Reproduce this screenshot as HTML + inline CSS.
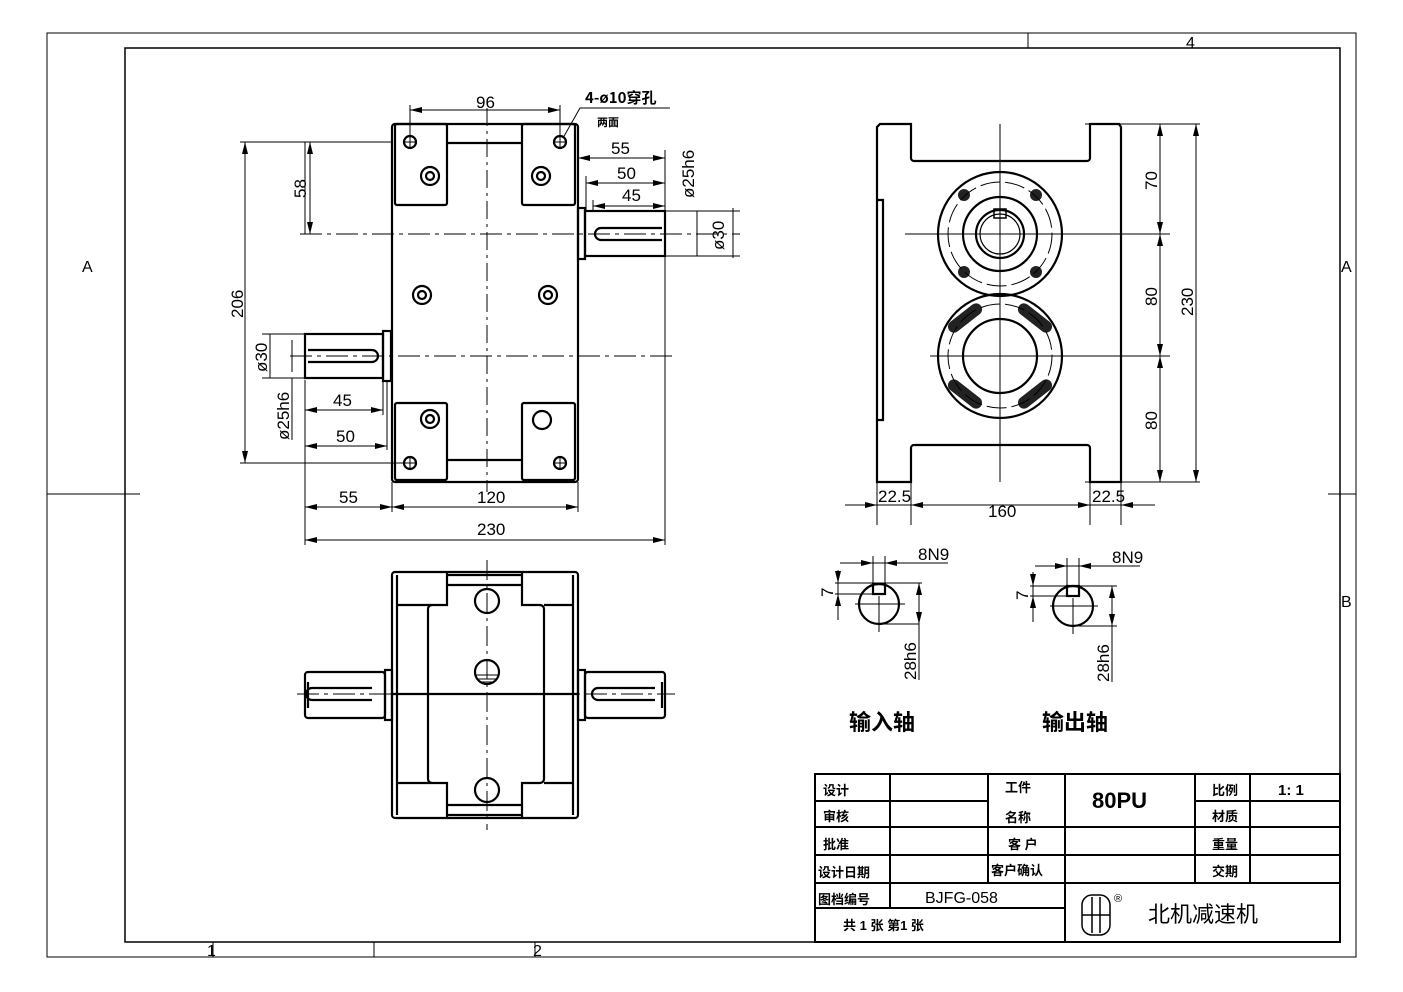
<!DOCTYPE html>
<html><head><meta charset="utf-8"><style>
html,body{margin:0;padding:0;background:#fff}
svg{display:block}
text{font-family:"Liberation Sans","Noto Sans CJK SC",sans-serif;fill:#000}
.d{font-family:"Liberation Sans Narrow","Liberation Sans",sans-serif;font-size:17px}
.c{font-family:"Noto Sans CJK SC","WenQuanYi Zen Hei",sans-serif;font-weight:bold}
</style></head><body>
<svg width="1403" height="992" viewBox="0 0 1403 992" xmlns="http://www.w3.org/2000/svg">
<g fill="none" stroke="#000">
<!-- frame -->
<rect x="47" y="33" width="1309" height="924" stroke-width="1"/>
<rect x="125" y="48" width="1215" height="894" stroke-width="1.5"/>
<path d="M1028 33V48M213 942V957M374 942V957M535 942V957M47 494H140M1328 494H1356" stroke-width="1"/>

<!-- FRONT VIEW -->
<g stroke-width="2.2">
<rect x="392" y="124" width="186" height="358" rx="3"/>
<rect x="395" y="124" width="52" height="81" rx="2"/>
<rect x="522" y="124" width="53" height="81" rx="2"/>
<rect x="395" y="403" width="52" height="77" rx="2"/>
<rect x="522" y="403" width="53" height="77" rx="2"/>
<path d="M447 143H522M447 460H522"/>
<circle cx="430" cy="176" r="9"/><circle cx="430" cy="176" r="4"/>
<circle cx="541" cy="176" r="9"/><circle cx="541" cy="176" r="4"/>
<circle cx="422" cy="295" r="9"/><circle cx="422" cy="295" r="4"/>
<circle cx="548" cy="295" r="9"/><circle cx="548" cy="295" r="4"/>
<circle cx="430" cy="419" r="9"/><circle cx="430" cy="419" r="4"/>
<circle cx="542" cy="420" r="9"/>
<circle cx="410" cy="142" r="6"/><circle cx="560" cy="142" r="6"/>
<circle cx="410" cy="463" r="6"/><circle cx="560" cy="463" r="6"/>
<rect x="585" y="211" width="80" height="45"/>
<rect x="578" y="208" width="7" height="51"/>
<path d="M662 228H601a6 6 0 0 0 0 12H662"/>
<rect x="305" y="334" width="78" height="44"/>
<rect x="383" y="331" width="8" height="50"/>
<path d="M308 350H372a6 6 0 0 1 0 12H308"/>
</g>
<g stroke-width="1">
<path d="M487 108V492" stroke-dasharray="18 5 3 5"/>
<path d="M300 234H740M290 356H675" stroke-dasharray="22 5 4 5"/>
<path d="M404 142H416M410 136V148M554 142H566M560 136V148M404 463H416M410 457V469M554 463H566M560 457V469"/>
<!-- dims -->
<path d="M410 105V140M560 105V140M410 110H560"/>
<path d="M563 138L580 108H670"/>
<path d="M578 158H665M586 183H665M593 206H665M665 150V545M586 176V211M593 200V211"/>
<path d="M665 211H740M665 256H740M697 211V256M733 208V258"/>
<path d="M240 142H392M240 463H410M245 142V463M305 234V142M310 142V234"/>
<path d="M262 334H305M262 378H305M270 334V378M292 340V372M292 378V440"/>
<path d="M305 380V545M383 378V415M387 381V450M392 482V512M578 482V512M305 410H383M305 446H387M305 507H578M305 540H665"/>
</g>
<g fill="#000" stroke="none">
<path d="M410 110l12-3v6zM560 110l-12-3v6zM578 158l12-3v6zM665 158l-12-3v6zM586 183l12-3v6zM665 183l-12-3v6zM593 206l12-3v6zM665 206l-12-3v6z"/>
<path d="M245 142l-3 12h6zM245 463l-3-12h6zM310 142l-3 12h6zM310 234l-3-12h6z"/>
<path d="M305 410l12-3v6zM383 410l-12-3v6zM305 446l12-3v6zM387 446l-12-3v6zM305 507l12-3v6zM392 507l-12-3v6zM392 507l12-3v6zM578 507l-12-3v6zM305 540l12-3v6zM665 540l-12-3v6z"/>
</g>

<!-- SIDE VIEW -->
<g stroke-width="2.2">
<path d="M880 124H911V158a3 3 0 0 0 3 3H1087a3 3 0 0 0 3-3V124H1119L1121 127V482H1090V448a3 3 0 0 0-3-3H914a3 3 0 0 0-3 3V482H877V127Z"/>
<path d="M877 200H883V420H877"/>
<circle cx="1000" cy="234" r="62"/><circle cx="1000" cy="234" r="37"/>
<circle cx="1000" cy="234" r="24"/><circle cx="1000" cy="234" r="20" stroke-width="1.2"/>
<rect x="994" y="209" width="12" height="9" stroke-width="1.5"/>
<circle cx="1000" cy="356" r="62"/><circle cx="1000" cy="356" r="37"/>
</g>
<g fill="#222" stroke="none">
<circle cx="964" cy="195" r="6"/><circle cx="1036" cy="195" r="6"/><circle cx="964" cy="272" r="6"/><circle cx="1036" cy="272" r="6"/>
<rect x="-20" y="-6" width="40" height="12" rx="6" transform="translate(965 318) rotate(-38)"/>
<rect x="-20" y="-6" width="40" height="12" rx="6" transform="translate(1035 318) rotate(38)"/>
<rect x="-20" y="-6" width="40" height="12" rx="6" transform="translate(965 394) rotate(38)"/>
<rect x="-20" y="-6" width="40" height="12" rx="6" transform="translate(1035 394) rotate(-38)"/>
</g>
<g stroke-width="1">
<circle cx="1000" cy="234" r="52" stroke-dasharray="20 5"/>
<circle cx="1000" cy="356" r="52" stroke-dasharray="20 5"/>
<path d="M1000 124V482M905 234H1170M930 356H1170M1085 124H1200M1085 482H1200"/>
<path d="M1160 124V482M1196 124V482"/>
<path d="M877 482V525M911 482V525M1090 482V525M1121 482V525M845 505H1155"/>
</g>
<g fill="#000" stroke="none">
<path d="M1160 124l-3 12h6zM1160 234l-3-12h6zM1160 234l-3 12h6zM1160 356l-3-12h6zM1160 356l-3 12h6zM1160 482l-3-12h6zM1196 124l-3 12h6zM1196 482l-3-12h6z"/>
<path d="M877 505l-12-3v6zM911 505l12-3v6zM1090 505l-12-3v6zM1121 505l12-3v6zM911 505l-0 0z"/>
</g>

<!-- BOTTOM VIEW -->
<g stroke-width="2.2">
<rect x="392" y="572" width="186" height="246" rx="3"/>
<path d="M397 575V815M573 575V815"/>
<path d="M447 572V605H432a4 4 0 0 0-4 4V779a4 4 0 0 0 4 4H447V818"/>
<path d="M522 572V605H540a4 4 0 0 1 4 4V779a4 4 0 0 1-4 4H522V818"/>
<path d="M397 605H432M397 783H432M544 605H573M544 783H573"/>
<path d="M447 575H522M447 585H522M447 805H522M447 815H522"/>
<path d="M392 694H578"/>
<circle cx="487" cy="601" r="12"/><circle cx="487" cy="672" r="12"/><circle cx="487" cy="790" r="12"/>
<rect x="305" y="672" width="80" height="46" rx="3"/>
<rect x="385" y="670" width="7" height="50"/>
<path d="M308 682V708M372 688H312a6 6 0 0 0 0 12H372"/>
<rect x="585" y="672" width="80" height="46" rx="3"/>
<rect x="578" y="670" width="7" height="50"/>
<path d="M662 682V708M598 688H655M598 700H655"/>
<path d="M598 688a6 6 0 0 0 0 12"/>
</g>
<g stroke-width="1">
<path d="M487 560V830" stroke-dasharray="20 5 3 5"/>
<path d="M297 694H675" stroke-dasharray="22 5 4 5"/>
<path d="M476 675H498M478 679H496M480 682H494"/>
</g>

<!-- SECTIONS -->
<g stroke-width="2.2">
<circle cx="879" cy="604" r="20"/><rect x="873" y="584" width="12" height="10"/>
<circle cx="1073" cy="606" r="20"/><rect x="1067" y="586" width="12" height="10"/>
</g>
<g stroke-width="1">
<path d="M873 556V592M885 556V592M840 563H948M835 583H922M835 594H880M838 570V620M879 596V632M855 604H905M919 583V680"/>
<path d="M1067 558V594M1079 558V594M1035 566H1140M1030 586H1117M1030 596H1073M1033 572V622M1073 598V634M1050 606H1098M1112 586V682M1112 626H1117"/>
<path d="M879 624H919M1073 626H1112"/>
</g>
<g fill="#000" stroke="none">
<path d="M873 563l-12-3v6zM885 563l12-3v6zM1067 566l-12-3v6zM1079 566l12-3v6zM838 583l-3-12h6zM838 594l-3 12h6zM1033 586l-3-12h6zM1033 596l-3 12h6zM919 583l-3 12h6zM919 624l-3-12h6zM1112 586l-3 12h6zM1112 626l-3-12h6z"/>
</g>

<!-- TITLE BLOCK -->
<g stroke-width="2">
<rect x="815" y="774" width="525" height="168"/>
<path d="M815 827H1340M815 855H1340M815 883H1340M815 908H1065"/>
<path d="M815 801H988M1195 801H1340"/>
<path d="M890 774V908M988 774V883M1065 774V942M1195 774V883M1250 774V883"/>
</g>
<g stroke-width="1.5">
<rect x="1082" y="895" width="28" height="40" rx="10"/>
<path d="M1082 915H1110M1092 897V933M1100 897V933"/>
</g>
</g>

<!-- TEXTS -->
<g class="d">
<text x="476" y="108">96</text>
<text x="585" y="103" font-size="15" class="c" font-weight="normal">4-ø10穿孔</text>
<text x="597" y="126" font-size="11" class="c" font-weight="normal">两面</text>
<text x="611" y="154">55</text><text x="617" y="179">50</text><text x="622" y="201">45</text>
<text transform="translate(694 198) rotate(-90)">ø25h6</text>
<text transform="translate(724 250) rotate(-90)">ø30</text>
<text transform="translate(243 318) rotate(-90)">206</text>
<text transform="translate(306 198) rotate(-90)">58</text>
<text transform="translate(267 372) rotate(-90)">ø30</text>
<text transform="translate(289 440) rotate(-90)">ø25h6</text>
<text x="333" y="406">45</text><text x="336" y="442">50</text>
<text x="339" y="503">55</text><text x="477" y="503">120</text><text x="477" y="535">230</text>
<text transform="translate(1157 190) rotate(-90)">70</text>
<text transform="translate(1157 306) rotate(-90)">80</text>
<text transform="translate(1157 430) rotate(-90)">80</text>
<text transform="translate(1193 316) rotate(-90)">230</text>
<text x="878" y="502">22.5</text><text x="988" y="517">160</text><text x="1092" y="502">22.5</text>
<text x="918" y="560">8N9</text><text x="1112" y="563">8N9</text>
<text transform="translate(833 597) rotate(-90)">7</text>
<text transform="translate(1028 600) rotate(-90)">7</text>
<text transform="translate(916 680) rotate(-90)">28h6</text>
<text transform="translate(1109 682) rotate(-90)">28h6</text>
</g>
<g font-size="16">
<text x="82" y="272">A</text><text x="1341" y="272">A</text><text x="1341" y="607">B</text>
<text x="1186" y="48">4</text><text x="207" y="956">1</text><text x="533" y="956">2</text>
</g>
<text class="c" x="849" y="730" font-size="22">输入轴</text>
<text class="c" x="1042" y="730" font-size="22">输出轴</text>
<g class="c" font-size="13">
<text x="823" y="795">设计</text><text x="823" y="821">审核</text><text x="823" y="849">批准</text>
<text x="818" y="877">设计日期</text><text x="818" y="904">图档编号</text>
<text x="843" y="930">共 1 张 第1 张</text>
<text x="1005" y="792">工件</text><text x="1005" y="822">名称</text>
<text x="1008" y="849">客 户</text><text x="991" y="875">客户确认</text>
<text x="1212" y="795">比例</text><text x="1212" y="821">材质</text><text x="1212" y="849">重量</text><text x="1212" y="876">交期</text>
</g>
<text x="1092" y="808" font-size="22" font-weight="bold" font-family="Liberation Serif">80PU</text>
<text x="1278" y="795" font-size="15" font-family="Liberation Serif" font-weight="bold">1: 1</text>
<text x="925" y="903" font-size="16" fill="#333">BJFG-058</text>
<text x="1114" y="902" font-size="11">®</text>
<text x="1148" y="922" font-size="22" font-family="Noto Sans CJK SC,sans-serif">北机减速机</text>
</svg>
</body></html>
